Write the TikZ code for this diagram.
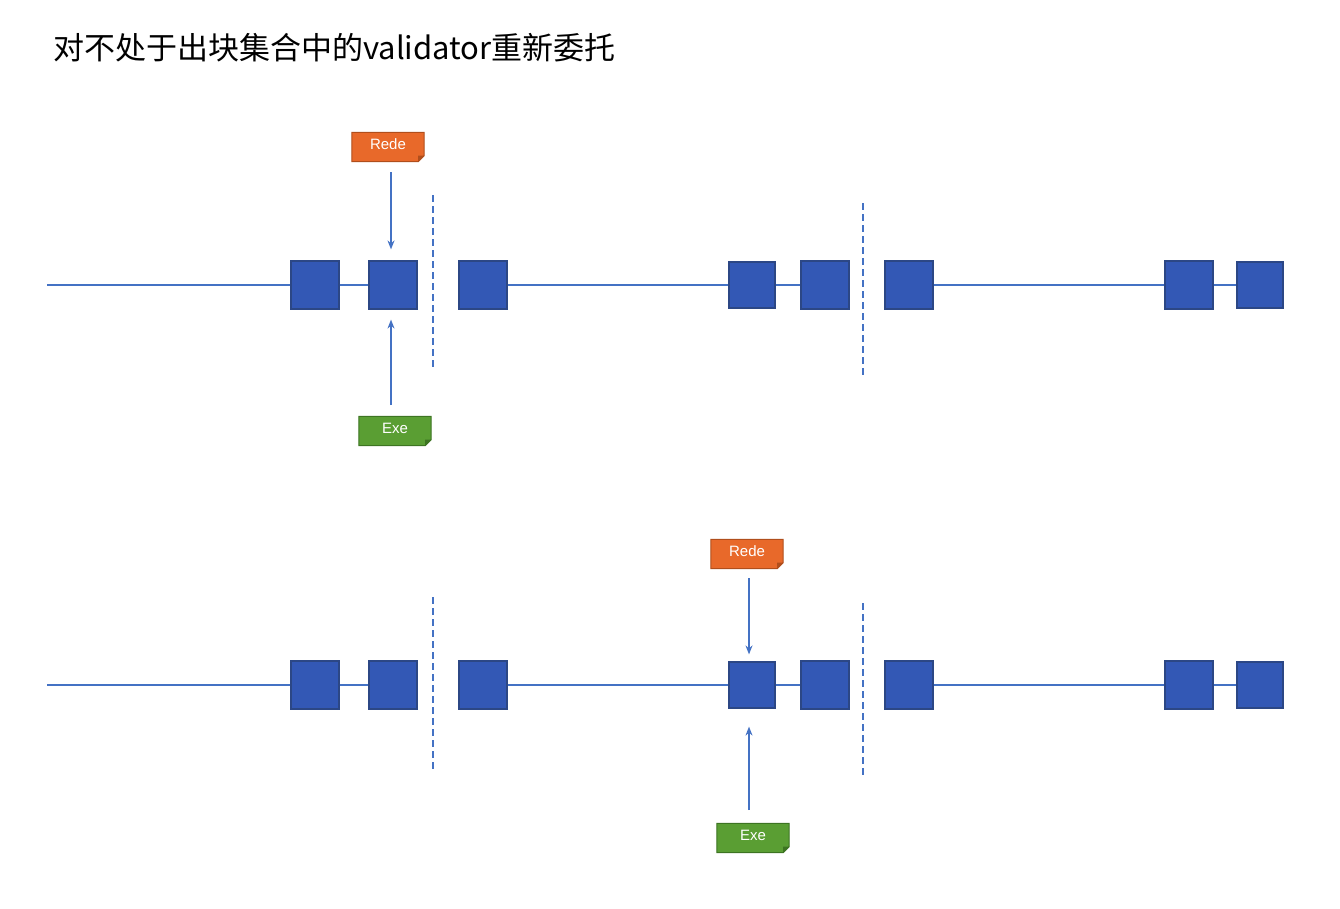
\documentclass[tikz,border=0pt]{standalone}
\usepackage{fontspec}
\setmainfont{Liberation Sans}
\newfontfamily\cjk{Noto Sans CJK SC}
\usetikzlibrary{arrows.meta,calc}
\definecolor{blkfill}{HTML}{3358B5}
\definecolor{blkdraw}{HTML}{2C4785}
\definecolor{linec}{HTML}{4472C4}
\definecolor{orangef}{HTML}{E8692A}
\definecolor{oranged}{HTML}{B04E1C}
\definecolor{greenf}{HTML}{5A9E33}
\definecolor{greend}{HTML}{3D7422}
\tikzset{
  blk/.style={draw=blkdraw, fill=blkfill, line width=1.2pt, minimum width=48pt, minimum height=48pt, inner sep=0pt},
  blks/.style={blk, minimum width=46pt, minimum height=46pt},
  chain/.style={draw=linec, line width=1.5pt},
  sep/.style={draw=linec, line width=1.5pt, dash pattern=on 7pt off 4pt},
  arr/.style={draw=linec, line width=1.3pt, -{Stealth[length=9pt,width=7pt]}},
  tag/.style={minimum width=72pt, minimum height=29pt, inner sep=0pt, text=white, font=\fontsize{15}{15}\selectfont},
}
\newcommand{\tagshape}[3]{%
  \fill[#2, draw=#3, line width=1pt] (#1.north west) -- (#1.north east) -- ($(#1.south east)+(0,-6)$) -- ($(#1.south east)+(-6,0)$) -- (#1.south west) -- cycle;
  \fill[#3] ($(#1.south east)+(0,-6)$) -- ($(#1.south east)+(-6,0)$) -- ($(#1.south east)+(-6,-6)$) -- cycle;
}
\begin{document}
\begin{tikzpicture}[x=1pt,y=-1pt]
\useasboundingbox (0,0) rectangle (1340,908);
\node[anchor=west, inner sep=0pt, font=\cjk\fontsize{31}{31}\selectfont] (title) at (53,48) {对不处于出块集合中的validator重新委托};

% Row 1
\coordinate (s1) at (47,285);
\node[blk] (a1) at (315,285) {};
\node[blk] (b1) at (393,285) {};
\node[blk] (c1) at (483,285) {};
\node[blks] (d1) at (752,285) {};
\node[blk] (e1) at (825,285) {};
\node[blk] (f1) at (909,285) {};
\node[blk] (g1) at (1189,285) {};
\node[blks] (h1) at (1260,285) {};
\coordinate (v1t) at (433,195); \coordinate (v1b) at (433,370);
\coordinate (w1t) at (863,203); \coordinate (w1b) at (863,375);
\path[sep] (v1t) -- (v1b);
\path[sep] (w1t) -- (w1b);

\node[tag] (r1) at (388,147) {};
\tagshape{r1}{orangef}{oranged}
\node[tag, yshift=3pt] at (r1) {Rede};
\node[tag] (x1) at (395,431) {};
\tagshape{x1}{greenf}{greend}
\node[tag, yshift=3pt] at (x1) {Exe};
\path[arr] (391,172) -- ($(b1.north)+(-2,-11)$);
\path[arr] (391,405) -- ($(b1.south)+(-2,10)$);

% Row 2
\coordinate (s2) at (47,685);
\node[blk] (a2) at (315,685) {};
\node[blk] (b2) at (393,685) {};
\node[blk] (c2) at (483,685) {};
\node[blks] (d2) at (752,685) {};
\node[blk] (e2) at (825,685) {};
\node[blk] (f2) at (909,685) {};
\node[blk] (g2) at (1189,685) {};
\node[blks] (h2) at (1260,685) {};
\coordinate (v2t) at (433,597); \coordinate (v2b) at (433,770);
\coordinate (w2t) at (863,603); \coordinate (w2b) at (863,775);
\path[sep] (v2t) -- (v2b);
\path[sep] (w2t) -- (w2b);

\node[tag] (r2) at (747,554) {};
\tagshape{r2}{orangef}{oranged}
\node[tag, yshift=3pt] at (r2) {Rede};
\node[tag] (x2) at (753,838) {};
\tagshape{x2}{greenf}{greend}
\node[tag, yshift=3pt] at (x2) {Exe};
\path[arr] (749,578) -- ($(d2.north)+(-3,-7)$);
\path[arr] (749,810) -- ($(d2.south)+(-3,18)$);

% chain lines
\foreach \r in {1,2}{
  \path[chain] (s\r) -- (a\r.west);
  \path[chain] (a\r.east) -- (b\r.west);
  \path[chain] (c\r.east) -- (d\r.west);
  \path[chain] (d\r.east) -- (e\r.west);
  \path[chain] (f\r.east) -- (g\r.west);
  \path[chain] (g\r.east) -- (h\r.west);
}
\end{tikzpicture}
\end{document}
